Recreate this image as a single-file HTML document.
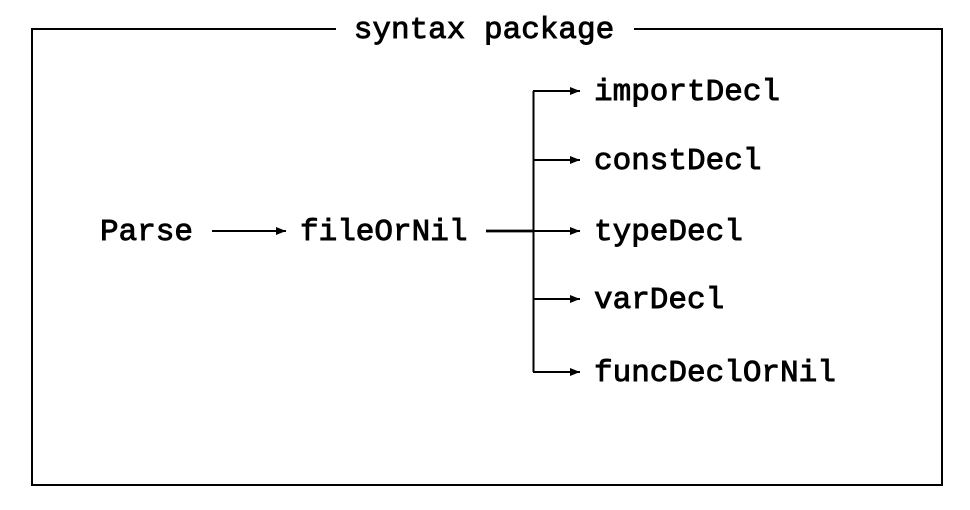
<!DOCTYPE html>
<html><head><style>html,body{margin:0;padding:0;background:#fff;}</style></head>
<body>
<svg width="970" height="510" xmlns="http://www.w3.org/2000/svg" style="display:block">
<defs><marker id="a" markerWidth="10" markerHeight="8" refX="10" refY="4" orient="auto" markerUnits="userSpaceOnUse"><path d="M0,0 L10,4 L0,8 z" fill="#000"/></marker></defs>
<g fill="none" stroke="#000" stroke-width="2">
<path d="M336,29 H32 V485 H942 V29 H634"/>
</g>
<g font-family="Liberation Mono, monospace" font-size="31" fill="#000" stroke="#000" stroke-width="0.9">
<text x="484" y="38" text-anchor="middle">syntax package</text>
<text x="100" y="240">Parse</text>
<text x="300" y="240">fileOrNil</text>
<text x="594" y="100">importDecl</text>
<text x="594" y="169">constDecl</text>
<text x="594" y="240">typeDecl</text>
<text x="594" y="308">varDecl</text>
<text x="594" y="381">funcDeclOrNil</text>
</g>
<g fill="none" stroke="#000" stroke-width="2">
<line x1="212" y1="231" x2="286" y2="231" marker-end="url(#a)"/>
<line x1="486" y1="231" x2="534" y2="231" stroke-width="2.8"/>
<line x1="533.5" y1="91" x2="533.5" y2="372"/>
<line x1="533" y1="91" x2="580" y2="91" marker-end="url(#a)"/>
<line x1="533" y1="160" x2="580" y2="160" marker-end="url(#a)"/>
<line x1="533" y1="231" x2="580" y2="231" marker-end="url(#a)"/>
<line x1="533" y1="299" x2="580" y2="299" marker-end="url(#a)"/>
<line x1="533" y1="372" x2="580" y2="372" marker-end="url(#a)"/>
</g>
</svg>
</body></html>
